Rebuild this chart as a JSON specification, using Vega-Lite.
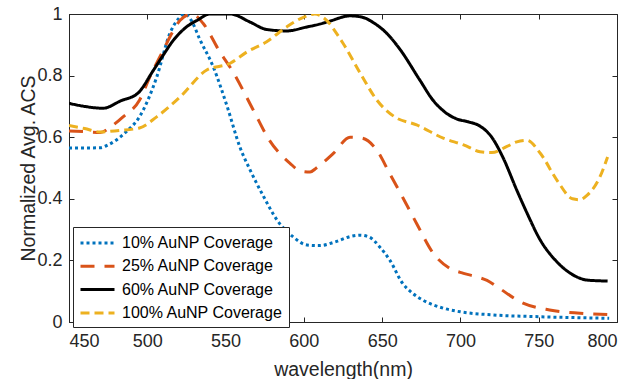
{
  "$schema": "https://vega.github.io/schema/vega-lite/v6.json",
  "width": 548,
  "height": 308,
  "autosize": {"type": "none"},
  "padding": {"left": 69, "top": 14, "right": 14, "bottom": 57},
  "background": "white",
  "config": {
    "view": {"stroke": "#262626", "strokeWidth": 1},
    "font": "Liberation Sans",
    "axis": {
      "labelFont": "Liberation Sans",
      "titleFont": "Liberation Sans",
      "labelFontSize": 18,
      "titleFontSize": 19.5,
      "titleFontWeight": "normal",
      "labelColor": "#262626",
      "titleColor": "#262626",
      "domainColor": "#262626",
      "tickColor": "#262626",
      "gridColor": "#dfdfdf",
      "gridWidth": 1,
      "tickSize": -5
    }
  },
  "data": {
    "values": [
      {"s": "10% AuNP Coverage", "x": 450, "y": 0.565},
      {"s": "10% AuNP Coverage", "x": 460, "y": 0.565},
      {"s": "10% AuNP Coverage", "x": 470, "y": 0.566},
      {"s": "10% AuNP Coverage", "x": 475, "y": 0.575},
      {"s": "10% AuNP Coverage", "x": 480, "y": 0.59},
      {"s": "10% AuNP Coverage", "x": 487, "y": 0.62},
      {"s": "10% AuNP Coverage", "x": 495, "y": 0.666},
      {"s": "10% AuNP Coverage", "x": 506, "y": 0.795},
      {"s": "10% AuNP Coverage", "x": 514.5, "y": 0.938},
      {"s": "10% AuNP Coverage", "x": 520, "y": 0.985},
      {"s": "10% AuNP Coverage", "x": 524, "y": 1.0},
      {"s": "10% AuNP Coverage", "x": 528, "y": 0.98},
      {"s": "10% AuNP Coverage", "x": 533.7, "y": 0.916},
      {"s": "10% AuNP Coverage", "x": 542, "y": 0.83},
      {"s": "10% AuNP Coverage", "x": 551, "y": 0.70},
      {"s": "10% AuNP Coverage", "x": 559, "y": 0.57},
      {"s": "10% AuNP Coverage", "x": 566, "y": 0.49},
      {"s": "10% AuNP Coverage", "x": 574, "y": 0.41},
      {"s": "10% AuNP Coverage", "x": 583, "y": 0.33},
      {"s": "10% AuNP Coverage", "x": 593, "y": 0.277},
      {"s": "10% AuNP Coverage", "x": 602, "y": 0.25},
      {"s": "10% AuNP Coverage", "x": 610, "y": 0.248},
      {"s": "10% AuNP Coverage", "x": 620, "y": 0.26},
      {"s": "10% AuNP Coverage", "x": 630, "y": 0.278},
      {"s": "10% AuNP Coverage", "x": 636, "y": 0.282},
      {"s": "10% AuNP Coverage", "x": 642, "y": 0.275},
      {"s": "10% AuNP Coverage", "x": 648.6, "y": 0.243},
      {"s": "10% AuNP Coverage", "x": 655, "y": 0.20},
      {"s": "10% AuNP Coverage", "x": 663, "y": 0.126},
      {"s": "10% AuNP Coverage", "x": 669, "y": 0.095},
      {"s": "10% AuNP Coverage", "x": 676, "y": 0.071},
      {"s": "10% AuNP Coverage", "x": 689, "y": 0.045},
      {"s": "10% AuNP Coverage", "x": 700, "y": 0.033},
      {"s": "10% AuNP Coverage", "x": 721, "y": 0.023},
      {"s": "10% AuNP Coverage", "x": 751, "y": 0.017},
      {"s": "10% AuNP Coverage", "x": 775, "y": 0.014},
      {"s": "10% AuNP Coverage", "x": 795, "y": 0.012},

      {"s": "25% AuNP Coverage", "x": 450, "y": 0.62},
      {"s": "25% AuNP Coverage", "x": 460, "y": 0.618},
      {"s": "25% AuNP Coverage", "x": 470, "y": 0.615},
      {"s": "25% AuNP Coverage", "x": 477, "y": 0.635},
      {"s": "25% AuNP Coverage", "x": 484.5, "y": 0.666},
      {"s": "25% AuNP Coverage", "x": 495, "y": 0.72},
      {"s": "25% AuNP Coverage", "x": 502, "y": 0.80},
      {"s": "25% AuNP Coverage", "x": 510, "y": 0.88},
      {"s": "25% AuNP Coverage", "x": 516, "y": 0.94},
      {"s": "25% AuNP Coverage", "x": 521, "y": 0.98},
      {"s": "25% AuNP Coverage", "x": 528.5, "y": 1.0},
      {"s": "25% AuNP Coverage", "x": 535.6, "y": 0.97},
      {"s": "25% AuNP Coverage", "x": 546, "y": 0.88},
      {"s": "25% AuNP Coverage", "x": 555, "y": 0.81},
      {"s": "25% AuNP Coverage", "x": 567.5, "y": 0.69},
      {"s": "25% AuNP Coverage", "x": 578, "y": 0.59},
      {"s": "25% AuNP Coverage", "x": 591, "y": 0.516},
      {"s": "25% AuNP Coverage", "x": 598, "y": 0.49},
      {"s": "25% AuNP Coverage", "x": 604, "y": 0.487},
      {"s": "25% AuNP Coverage", "x": 608, "y": 0.50},
      {"s": "25% AuNP Coverage", "x": 619, "y": 0.548},
      {"s": "25% AuNP Coverage", "x": 629.5, "y": 0.60},
      {"s": "25% AuNP Coverage", "x": 637, "y": 0.597},
      {"s": "25% AuNP Coverage", "x": 646.6, "y": 0.558},
      {"s": "25% AuNP Coverage", "x": 655, "y": 0.48},
      {"s": "25% AuNP Coverage", "x": 663, "y": 0.406},
      {"s": "25% AuNP Coverage", "x": 672, "y": 0.32},
      {"s": "25% AuNP Coverage", "x": 682.5, "y": 0.224},
      {"s": "25% AuNP Coverage", "x": 693, "y": 0.175},
      {"s": "25% AuNP Coverage", "x": 702, "y": 0.158},
      {"s": "25% AuNP Coverage", "x": 711, "y": 0.146},
      {"s": "25% AuNP Coverage", "x": 717, "y": 0.135},
      {"s": "25% AuNP Coverage", "x": 723.5, "y": 0.114},
      {"s": "25% AuNP Coverage", "x": 740, "y": 0.061},
      {"s": "25% AuNP Coverage", "x": 757, "y": 0.039},
      {"s": "25% AuNP Coverage", "x": 774.5, "y": 0.029},
      {"s": "25% AuNP Coverage", "x": 795, "y": 0.024},

      {"s": "60% AuNP Coverage", "x": 450, "y": 0.71},
      {"s": "60% AuNP Coverage", "x": 460, "y": 0.70},
      {"s": "60% AuNP Coverage", "x": 471.7, "y": 0.694},
      {"s": "60% AuNP Coverage", "x": 483, "y": 0.718},
      {"s": "60% AuNP Coverage", "x": 494, "y": 0.743},
      {"s": "60% AuNP Coverage", "x": 504, "y": 0.818},
      {"s": "60% AuNP Coverage", "x": 510, "y": 0.865},
      {"s": "60% AuNP Coverage", "x": 516.7, "y": 0.915},
      {"s": "60% AuNP Coverage", "x": 525, "y": 0.958},
      {"s": "60% AuNP Coverage", "x": 532, "y": 0.98},
      {"s": "60% AuNP Coverage", "x": 540, "y": 1.0},
      {"s": "60% AuNP Coverage", "x": 553, "y": 1.0},
      {"s": "60% AuNP Coverage", "x": 565.6, "y": 0.974},
      {"s": "60% AuNP Coverage", "x": 576, "y": 0.95},
      {"s": "60% AuNP Coverage", "x": 589, "y": 0.945},
      {"s": "60% AuNP Coverage", "x": 602, "y": 0.958},
      {"s": "60% AuNP Coverage", "x": 610, "y": 0.967},
      {"s": "60% AuNP Coverage", "x": 616.7, "y": 0.977},
      {"s": "60% AuNP Coverage", "x": 629.5, "y": 0.994},
      {"s": "60% AuNP Coverage", "x": 637, "y": 0.99},
      {"s": "60% AuNP Coverage", "x": 645, "y": 0.97},
      {"s": "60% AuNP Coverage", "x": 652, "y": 0.942},
      {"s": "60% AuNP Coverage", "x": 661, "y": 0.888},
      {"s": "60% AuNP Coverage", "x": 674, "y": 0.786},
      {"s": "60% AuNP Coverage", "x": 682.5, "y": 0.72},
      {"s": "60% AuNP Coverage", "x": 691, "y": 0.678},
      {"s": "60% AuNP Coverage", "x": 697.8, "y": 0.659},
      {"s": "60% AuNP Coverage", "x": 705, "y": 0.65},
      {"s": "60% AuNP Coverage", "x": 712.5, "y": 0.636},
      {"s": "60% AuNP Coverage", "x": 720, "y": 0.60},
      {"s": "60% AuNP Coverage", "x": 727, "y": 0.536},
      {"s": "60% AuNP Coverage", "x": 736, "y": 0.428},
      {"s": "60% AuNP Coverage", "x": 742.5, "y": 0.354},
      {"s": "60% AuNP Coverage", "x": 751, "y": 0.266},
      {"s": "60% AuNP Coverage", "x": 761.7, "y": 0.195},
      {"s": "60% AuNP Coverage", "x": 774.5, "y": 0.146},
      {"s": "60% AuNP Coverage", "x": 781, "y": 0.136},
      {"s": "60% AuNP Coverage", "x": 794, "y": 0.133},

      {"s": "100% AuNP Coverage", "x": 450, "y": 0.638},
      {"s": "100% AuNP Coverage", "x": 460, "y": 0.628},
      {"s": "100% AuNP Coverage", "x": 469.8, "y": 0.617},
      {"s": "100% AuNP Coverage", "x": 482, "y": 0.622},
      {"s": "100% AuNP Coverage", "x": 495, "y": 0.63},
      {"s": "100% AuNP Coverage", "x": 506, "y": 0.666},
      {"s": "100% AuNP Coverage", "x": 521, "y": 0.731},
      {"s": "100% AuNP Coverage", "x": 538, "y": 0.818},
      {"s": "100% AuNP Coverage", "x": 553, "y": 0.84},
      {"s": "100% AuNP Coverage", "x": 563.7, "y": 0.877},
      {"s": "100% AuNP Coverage", "x": 576, "y": 0.909},
      {"s": "100% AuNP Coverage", "x": 589, "y": 0.958},
      {"s": "100% AuNP Coverage", "x": 600, "y": 0.99},
      {"s": "100% AuNP Coverage", "x": 607, "y": 1.0},
      {"s": "100% AuNP Coverage", "x": 612, "y": 0.99},
      {"s": "100% AuNP Coverage", "x": 625, "y": 0.905},
      {"s": "100% AuNP Coverage", "x": 636, "y": 0.808},
      {"s": "100% AuNP Coverage", "x": 646.7, "y": 0.72},
      {"s": "100% AuNP Coverage", "x": 658, "y": 0.666},
      {"s": "100% AuNP Coverage", "x": 672, "y": 0.64},
      {"s": "100% AuNP Coverage", "x": 689, "y": 0.597},
      {"s": "100% AuNP Coverage", "x": 702, "y": 0.575},
      {"s": "100% AuNP Coverage", "x": 712.5, "y": 0.553},
      {"s": "100% AuNP Coverage", "x": 720, "y": 0.55},
      {"s": "100% AuNP Coverage", "x": 729.7, "y": 0.57},
      {"s": "100% AuNP Coverage", "x": 736, "y": 0.585},
      {"s": "100% AuNP Coverage", "x": 742.5, "y": 0.59},
      {"s": "100% AuNP Coverage", "x": 751, "y": 0.548},
      {"s": "100% AuNP Coverage", "x": 761.7, "y": 0.46},
      {"s": "100% AuNP Coverage", "x": 771.6, "y": 0.40},
      {"s": "100% AuNP Coverage", "x": 776, "y": 0.397},
      {"s": "100% AuNP Coverage", "x": 781, "y": 0.412},
      {"s": "100% AuNP Coverage", "x": 789, "y": 0.47},
      {"s": "100% AuNP Coverage", "x": 794, "y": 0.536}
    ]
  },
  "layer": [
    {
      "mark": {"type": "line", "opacity": 0},
      "encoding": {
        "x": {
          "field": "x", "type": "quantitative",
          "scale": {"domain": [450, 800], "nice": false},
          "axis": {"orient": "top", "values": [450, 500, 550, 600, 650, 700, 750, 800], "labels": false, "title": null, "grid": false, "domain": false}
        },
        "y": {
          "field": "y", "type": "quantitative",
          "scale": {"domain": [0, 1], "nice": false},
          "axis": {"orient": "right", "values": [0, 0.2, 0.4, 0.6, 0.8, 1], "labels": false, "title": null, "grid": false, "domain": false}
        }
      }
    },
    {
      "mark": {"type": "line", "strokeWidth": 3, "interpolate": "monotone", "clip": true},
      "encoding": {
        "x": {
          "field": "x", "type": "quantitative",
          "scale": {"domain": [450, 800], "nice": false},
          "axis": {"orient": "bottom", "values": [450, 500, 550, 600, 650, 700, 750, 800], "title": "wavelength(nm)", "labelPadding": 15, "titlePadding": 10}
        },
        "y": {
          "field": "y", "type": "quantitative",
          "scale": {"domain": [0, 1], "nice": false},
          "axis": {"orient": "left", "values": [0, 0.2, 0.4, 0.6, 0.8, 1], "format": "~g", "title": "Normalized Avg. ACS", "labelPadding": 12, "titlePadding": -2}
        },
        "color": {
          "field": "s", "type": "nominal", "title": null,
          "scale": {
            "domain": ["10% AuNP Coverage", "25% AuNP Coverage", "60% AuNP Coverage", "100% AuNP Coverage"],
            "range": ["#0072BD", "#D95319", "#000000", "#EDB120"]
          },
          "legend": {
            "orient": "none", "legendX": 4, "legendY": 213,
            "fillColor": "white", "strokeColor": "#262626", "padding": 6,
            "symbolType": "M-1,0H3", "symbolSize": 289, "symbolStrokeWidth": 3,
            "symbolFillColor": "transparent",
            "labelFont": "Liberation Sans", "labelFontSize": 16, "labelColor": "#000000",
            "labelLimit": 400,
            "labelExpr": "datum.label + '\u00a0\u00a0'",
            "rowPadding": 5.3, "labelOffset": 23
          }
        },
        "strokeDash": {
          "field": "s", "type": "nominal", "title": null,
          "scale": {
            "domain": ["10% AuNP Coverage", "25% AuNP Coverage", "60% AuNP Coverage", "100% AuNP Coverage"],
            "range": [[3, 3], [14, 10], [1, 0], [9, 5]]
          }
        }
      }
    }
  ],
  "resolve": {"axis": {"x": "independent", "y": "independent"}}
}
